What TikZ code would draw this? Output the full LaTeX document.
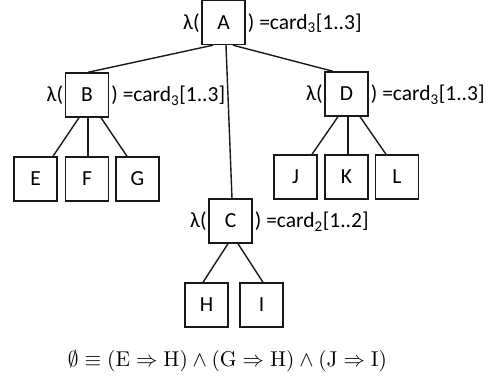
\documentclass[tikz,border=0pt]{standalone}
\usepackage{amssymb}
\usepackage{graphicx}
\usepackage[no-math]{fontspec}
\setmainfont{Carlito}
\begin{document}
\begin{tikzpicture}[x=1pt,y=-1pt,
  box/.style={draw=black!90, line width=1.4pt, minimum width=43pt, minimum height=44pt,
    inner sep=0pt, font=\fontsize{21.5}{25}\selectfont, text height=13.8pt, text depth=0pt},
  lbl/.style={inner sep=0pt, font=\fontsize{21.5}{25}\selectfont},
  edge/.style={line width=1.4pt, draw=black!90}]
\useasboundingbox (0,0) rectangle (491,379);
% boxes
\node[box] (A) at (223.5,22.5) {A};
\node[box] (B) at (87,95) {B};
\node[box] (D) at (346.5,94) {D};
\node[box] (E) at (35.5,179) {E};
\node[box] (F) at (87,179) {F};
\node[box] (G) at (137.5,179) {G};
\node[box] (J) at (295.5,177) {J};
\node[box] (K) at (346.5,177) {K};
\node[box] (L) at (397,177) {L};
\node[box] (C) at (230.5,221) {C};
\node[box] (H) at (206.5,305) {H};
\node[box] (I) at (261.5,305) {I};
% labels
\foreach \n/\k/\r in {A/3/3, B/3/3, D/3/3, C/2/2}{
  \node[lbl, anchor=base east] (l\n) at ([xshift=-1.5pt]\n.base west) {λ(};
  \node[lbl, anchor=base west] (r\n) at ([xshift=2pt]\n.base east) {) =card\textsubscript{\k}[1..\r]};
}
% edges
\draw[edge] ([xshift=-10.5pt]A.south) -- ([xshift=1pt]B.north);
\draw[edge] ([xshift=2.5pt]A.south) -- ([xshift=1.5pt]C.north);
\draw[edge] ([xshift=9.5pt]A.south) -- ([xshift=-13.5pt]D.north);
\draw[edge] ([xshift=-8pt]B.south) -- ([xshift=17.5pt]E.north);
\draw[edge] ([xshift=1pt]B.south) -- ([xshift=1pt]F.north);
\draw[edge] ([xshift=14pt]B.south) -- ([xshift=-10.5pt]G.north);
\draw[edge] ([xshift=-8.5pt]D.south) -- ([xshift=16.5pt]J.north);
\draw[edge] ([xshift=1.5pt]D.south) -- ([xshift=1.5pt]K.north);
\draw[edge] ([xshift=13.5pt]D.south) -- ([xshift=-11pt]L.north);
\draw[edge] ([xshift=-2.5pt]C.south) -- ([xshift=-3.5pt]H.north);
\draw[edge] ([xshift=7.5pt]C.south) -- ([xshift=1.5pt]I.north);
% formula
\node[inner sep=0pt, anchor=base] (f) at (227.5,367)
  {\resizebox{319pt}{!}{$\emptyset \equiv (\mathrm{E} \Rightarrow \mathrm{H}) \wedge (\mathrm{G} \Rightarrow \mathrm{H}) \wedge (\mathrm{J} \Rightarrow \mathrm{I})$}};
\end{tikzpicture}
\end{document}
